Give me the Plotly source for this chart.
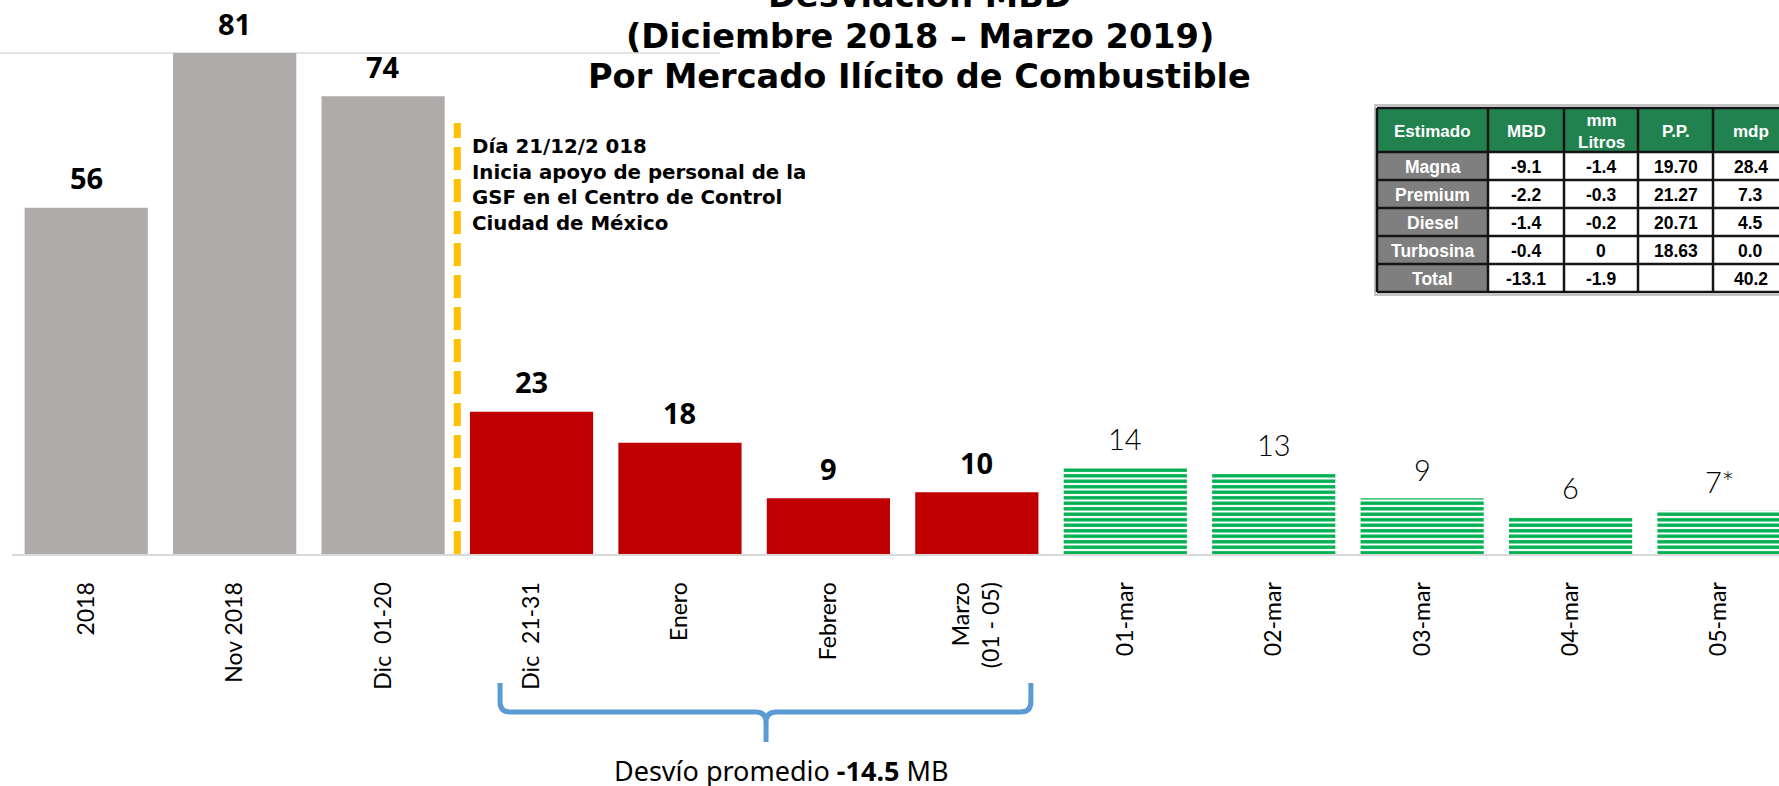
import plotly.graph_objects as go

# ---------------- data ----------------
categories = ["2018", "Nov 2018", "Dic\u00a0\u00a001-20", "Dic\u00a0\u00a021-31", "Enero", "Febrero",
              "Marzo<br>(01 - 05)", "01-mar", "02-mar", "03-mar", "04-mar", "05-mar"]
gray_cats = categories[0:3]
gray_vals = [56, 81, 74]
red_cats = categories[3:7]
red_vals = [23, 18, 9, 10]
green_cats = categories[7:12]
green_vals = [14, 13, 9, 6, 7]
green_labels = ["14", "13", "9", "6", "7*"]

table_header = ["Estimado", "MBD", "mm<br>Litros", "P.P.", "mdp"]
tbl_estimado = ["Magna", "Premium", "Diesel", "Turbosina", "Total"]
tbl_mbd = ["-9.1", "-2.2", "-1.4", "-0.4", "-13.1"]
tbl_litros = ["-1.4", "-0.3", "-0.2", "0", "-1.9"]
tbl_pp = ["19.70", "21.27", "20.71", "18.63", ""]
tbl_mdp = ["28.4", "7.3", "4.5", "0.0", "40.2"]

title_lines = ["Desviación MBD", "(Diciembre 2018 – Marzo 2019)", "Por Mercado Ilícito de Combustible"]
note_text = ("<b>Día 21/12/2 018<br>Inicia apoyo de personal de la<br>"
             "GSF en el Centro de Control<br>Ciudad de México</b>")
bracket_text = "Desvío promedio <b>-14.5</b> MB"

# ---------------- layout geometry (pixels) ----------------
W, H = 1779, 786
L, R, T, B = 12, 0, 0, 232
PW = W - L - R
PH = H - T - B


def px(x):
    return (x - L) / PW


def py(y):
    return (H - B - y) / PH


GRAY = "#AFABAB"
RED = "#C00000"
GREEN = "#00B050"

fig = go.Figure()
fig.add_trace(go.Bar(x=gray_cats, y=gray_vals, marker=dict(color=GRAY, line=dict(width=0)),
                     hoverinfo="skip"))
fig.add_trace(go.Bar(x=red_cats, y=red_vals, marker=dict(color=RED, line=dict(width=0)),
                     hoverinfo="skip"))
fig.add_trace(go.Bar(x=green_cats, y=green_vals,
                     marker=dict(color="white", line=dict(width=0),
                                 pattern=dict(shape="-", fgcolor=GREEN, bgcolor="white",
                                              fgopacity=1, size=5.5, solidity=0.62)),
                     hoverinfo="skip"))

annotations = []
shapes = []

# value labels
for c, v in list(zip(gray_cats, gray_vals)) + list(zip(red_cats, red_vals)):
    annotations.append(dict(x=categories.index(c), y=v, xref="x", yref="y", text=f"<b>{v}</b>",
                            showarrow=False, yanchor="middle", yshift=30,
                            font=dict(family="Open Sans", size=29, color="black")))
for c, v, t in zip(green_cats, green_vals, green_labels):
    annotations.append(dict(x=categories.index(c), y=v, xref="x", yref="y", text=t,
                            showarrow=False, yanchor="middle", yshift=29,
                            font=dict(family="Lato", size=29, color="black", weight=300)))
# title
for line, ypix in zip(title_lines, [-4, 36, 77]):
    annotations.append(dict(x=px(920), y=py(ypix), xref="paper", yref="paper", text=f"<b>{line}</b>",
                            showarrow=False, xanchor="center", yanchor="middle",
                            font=dict(family="DejaVu Sans", size=33.6, color="black")))
# note
annotations.append(dict(x=px(470), y=py(185), xref="paper", yref="paper", text=note_text,
                        showarrow=False, xanchor="left", yanchor="middle", align="left",
                        font=dict(family="DejaVu Sans", size=19.8, color="black")))
# bracket text
annotations.append(dict(x=4.68, y=py(770), xref="x", yref="paper", text=bracket_text,
                        showarrow=False, xanchor="center", yanchor="middle",
                        font=dict(family="Noto Sans", size=27, color="black")))

# ---------------- table (shapes + text) ----------------
tbl_cols = [tbl_estimado, tbl_mbd, tbl_litros, tbl_pp, tbl_mdp]
col_edges = [1377, 1488, 1564, 1638, 1713, 1788]
row_edges = [108, 152, 180, 208, 236, 264, 292]
TBL_FONT = "Liberation Sans, Arial"

shapes.append(dict(type="rect", xref="paper", yref="paper", x0=px(1375), x1=px(1795),
                   y0=py(105), y1=py(295), line=dict(color="#C4C4C4", width=2), fillcolor="white"))
for ci in range(5):
    x0, x1 = col_edges[ci], col_edges[ci + 1]
    shapes.append(dict(type="rect", xref="paper", yref="paper", x0=px(x0), x1=px(x1),
                       y0=py(row_edges[0]), y1=py(row_edges[1]), line=dict(width=0),
                       fillcolor="#218250"))
    annotations.append(dict(x=px((x0 + x1) / 2), y=py((row_edges[0] + row_edges[1]) / 2 + 1),
                            xref="paper", yref="paper", text=f"<b>{table_header[ci]}</b>",
                            showarrow=False, xanchor="center", yanchor="middle",
                            font=dict(family=TBL_FONT, size=17, color="white")))
    for ri in range(5):
        y0, y1 = row_edges[ri + 1], row_edges[ri + 2]
        shapes.append(dict(type="rect", xref="paper", yref="paper", x0=px(x0), x1=px(x1),
                           y0=py(y0), y1=py(y1), line=dict(width=0),
                           fillcolor="#7F7F7F" if ci == 0 else "white"))
        annotations.append(dict(x=px((x0 + x1) / 2), y=py((y0 + y1) / 2 + 1),
                                xref="paper", yref="paper", text=f"<b>{tbl_cols[ci][ri]}</b>",
                                showarrow=False, xanchor="center", yanchor="middle",
                                font=dict(family=TBL_FONT, size=17.5,
                                          color="white" if ci == 0 else "black")))
for xe in col_edges:
    shapes.append(dict(type="line", xref="paper", yref="paper", x0=px(xe), x1=px(xe),
                       y0=py(row_edges[0]), y1=py(row_edges[-1]),
                       line=dict(color="#141414", width=2.5)))
for ye in row_edges:
    shapes.append(dict(type="line", xref="paper", yref="paper", x0=px(col_edges[0]),
                       x1=px(col_edges[-1]), y0=py(ye), y1=py(ye),
                       line=dict(color="#141414", width=2.5)))

# bracket path
bx0, bx1, bxc = 2.788, 6.364, 4.58
yt, ym, yb = py(683), py(712), py(742)
rx, ry = 0.07, 10 / PH
path = (f"M {bx0},{yt} L {bx0},{ym + ry} Q {bx0},{ym} {bx0 + rx},{ym} L {bxc - rx},{ym} "
        f"Q {bxc},{ym} {bxc},{ym - ry} L {bxc},{yb} "
        f"M {bx1},{yt} L {bx1},{ym + ry} Q {bx1},{ym} {bx1 - rx},{ym} L {bxc + rx},{ym} "
        f"Q {bxc},{ym} {bxc},{ym - ry}")

shapes += [
    dict(type="line", xref="paper", yref="y", x0=px(0), x1=px(720), y0=81, y1=81,
         line=dict(color="#E3E3E3", width=2), layer="below"),
    dict(type="line", xref="x", yref="y", x0=2.5, x1=2.5, y0=0, y1=69.7,
         line=dict(color="#FFC000", width=7, dash="23px,9px")),
    dict(type="path", xref="x", yref="paper", path=path,
         line=dict(color="#5B9BD5", width=5)),
]

ymax = PH / ((H - B - 53) / 81)

fig.update_layout(
    width=W, height=H,
    margin=dict(l=L, r=R, t=T, b=B, autoexpand=False),
    paper_bgcolor="white", plot_bgcolor="white",
    barmode="overlay", bargap=0.17,
    showlegend=False,
    annotations=annotations,
    shapes=shapes,
    xaxis=dict(type="category", categoryorder="array", categoryarray=categories,
               range=[-0.5, 11.404], showgrid=False, zeroline=False,
               showline=True, linecolor="#D9D9D9", linewidth=2,
               ticks="", tickangle=-90, ticklabelstandoff=17,
               tickfont=dict(family="Lato", size=23, color="black", weight=400),
               automargin=False, fixedrange=True),
    yaxis=dict(range=[0, ymax], visible=False, showgrid=False, zeroline=False,
               automargin=False, fixedrange=True),
)

fig.write_html("out.html", config={"displayModeBar": False},
               post_script="document.body.style.margin='0px';")
